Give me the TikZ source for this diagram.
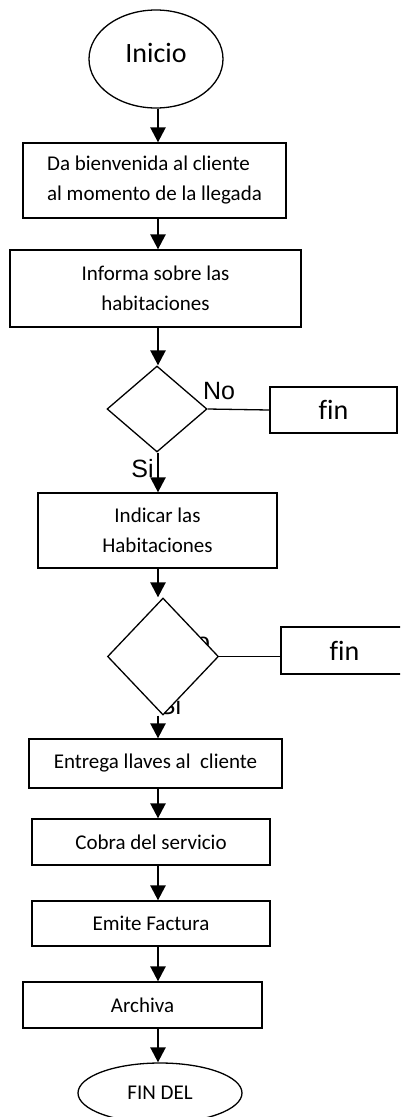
\documentclass[tikz,border=0pt]{standalone}
\usepackage{fontspec}
\setmainfont{Carlito}
\newfontfamily\arialf{Liberation Sans}
\usetikzlibrary{shapes.geometric,arrows.meta}
\begin{document}
\begin{tikzpicture}[x=1pt,y=-1pt,
  box/.style={draw, line width=1.3pt, inner sep=0pt, align=center, font=\fontsize{21}{30}\selectfont},
  bigtxt/.style={font=\fontsize{28}{34}\selectfont},
  ell/.style={draw, ellipse, line width=1.3pt, inner sep=0pt, font=\fontsize{21}{30}\selectfont},
  dia/.style={draw, diamond, line width=1.3pt, inner sep=0pt, fill=white},
  lbl/.style={inner sep=0pt, font=\arialf\fontsize{25}{30}\selectfont},
  arr/.style={line width=2.5pt, -{Triangle[width=15pt,length=15pt]}},
  conn/.style={line width=1.3pt}
]
\useasboundingbox (0,0) rectangle (400,1117);
\clip (0,0) rectangle (400,1117);
\coordinate (ax) at (158,0);

\node[ell, minimum width=134pt, minimum height=98pt] (ini) at (156,59) {};
\node[bigtxt] (initxt) at (156,53) {Inicio};

\node[box, align=left, minimum width=263pt, minimum height=75pt] (b1) at (154.5,180.5) {Da bienvenida al cliente\\al momento de la llegada};
\node[box, minimum width=291pt, minimum height=77pt] (b2) at (155.5,288.5) {Informa sobre las\\habitaciones};

\node[dia, minimum width=100pt, minimum height=86pt] (d1) at (157,409) {};
\node[box, bigtxt, minimum width=127pt, minimum height=46pt] (f1) at (333.5,410) {\mbox{f}in};
\node[lbl] (no1) at (219,391) {No};
\node[lbl] (si1) at (142.5,469) {Si};

\node[box, minimum width=239pt, minimum height=75pt] (b3) at (157.5,530.5) {Indicar las\\Habitaciones};

\node[lbl] (no2) at (194,642) {No};
\node[lbl] (si2) at (170,706) {Si};
\node[dia, minimum width=111pt, minimum height=117pt] (d2) at (163,656.5) {};
\node[box, bigtxt, minimum width=127pt, minimum height=47pt] (f2) at (344.5,650.5) {\mbox{f}in};

\node[box, minimum width=253pt, minimum height=49pt] (b4) at (155.5,763.5) {Entrega llaves al~~cliente};
\node[box, minimum width=238pt, minimum height=46pt] (b5) at (151,842) {Cobra del servicio};
\node[box, minimum width=238pt, minimum height=45pt] (b6) at (151,923.5) {Emite Factura};
\node[box, minimum width=239pt, minimum height=46pt] (b7) at (142.5,1005) {Archiva};
\node[ell, minimum width=164pt, minimum height=60pt] (fend) at (160,1093) {FIN DEL};

\draw[arr] (ini.south -| ax) -- (b1.north -| ax);
\draw[arr] (b1.south -| ax) -- (b2.north -| ax);
\draw[arr] (b2.south -| ax) -- (d1.north -| ax);
\draw[arr] (d1.south -| ax) -- (b3.north -| ax);
\draw[arr] (b3.south -| ax) -- (d2.north -| ax);
\draw[arr] (d2.south -| ax) -- (b4.north -| ax);
\draw[arr] (b4.south -| ax) -- (b5.north -| ax);
\draw[arr] (b5.south -| ax) -- (b6.north -| ax);
\draw[arr] (b6.south -| ax) -- (b7.north -| ax);
\draw[arr] (b7.south -| ax) -- (fend.north -| ax);

\draw[conn] (d1.east) -- (f1.west);
\draw[conn] (d2.east) -- (d2.east -| f2.west);
\end{tikzpicture}
\end{document}
